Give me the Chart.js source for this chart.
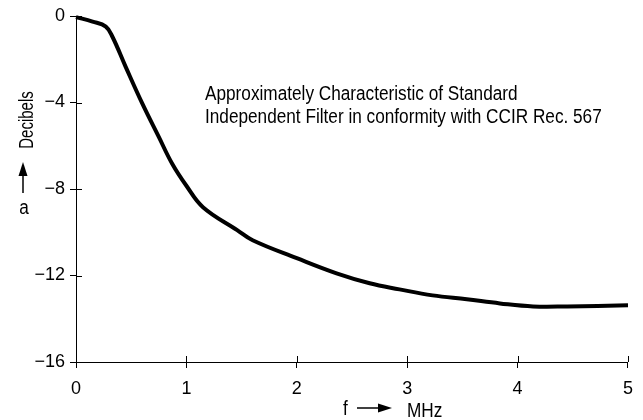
<!DOCTYPE html>
<html>
<head>
<meta charset="utf-8">
<script src="https://cdn.jsdelivr.net/npm/chart.js@4.4.1/dist/chart.umd.min.js"></script>
<style>
    html, body { margin: 0; padding: 0; background: #fff; }
    canvas { display: block; }
</style>
</head>
<body>
<canvas id="chart" width="643" height="420"></canvas>
<script>
// attenuation curve (MHz, dB)
const freq = [0, 0.15, 0.27, 0.33, 0.45, 0.6, 0.75, 0.87, 1.0, 1.15, 1.46, 1.6, 2.0, 2.36, 2.66, 2.93, 3.23, 3.54, 3.84, 4.14, 4.45, 5.0];
const atten = [-0.05, -0.26, -0.49, -0.96, -2.35, -4.04, -5.59, -6.82, -7.85, -8.84, -9.9, -10.37, -11.2, -11.9, -12.36, -12.64, -12.92, -13.1, -13.29, -13.43, -13.43, -13.38];

const xTicks = [0, 1, 2, 3, 4, 5];
const yTicks = [0, -4, -8, -12, -16];
const note = [
    "Approximately Characteristic of Standard",
    "Independent Filter in conformity with CCIR Rec. 567"
];

const FONT = '"Liberation Sans Narrow", "Liberation Sans", Arial, sans-serif';
const NARROW = 0.86; // no narrow face installed, squeeze by hand

function line(ctx, x1, y1, x2, y2) {
    ctx.beginPath();
    ctx.moveTo(x1, y1);
    ctx.lineTo(x2, y2);
    ctx.stroke();
}

function text(ctx, t, x, y, rot, sx) {
    ctx.save();
    ctx.translate(x, y);
    if (rot) ctx.rotate(rot);
    ctx.scale(sx || NARROW, 1);
    ctx.fillText(t, 0, 0);
    ctx.restore();
}

// ticks cross the axis, titles with arrows, and the note
const extras = {
    id: "extras",
    afterDraw(chart) {
        const ctx = chart.ctx;
        const xs = chart.scales.x, ys = chart.scales.y;
        const area = chart.chartArea;
        ctx.save();
        ctx.strokeStyle = "#000";
        ctx.fillStyle = "#000";
        ctx.lineWidth = 1;

        xTicks.forEach(v => {
            const px = Math.round(xs.getPixelForValue(v)) + 0.5;
            line(ctx, px, area.bottom, px, area.bottom - 6);
        });
        yTicks.forEach(v => {
            const py = Math.round(ys.getPixelForValue(v)) + 0.5;
            line(ctx, area.left, py, area.left + 6, py);
        });

        ctx.font = "20px " + FONT;
        ctx.textBaseline = "alphabetic";
        ctx.textAlign = "left";
        text(ctx, note[0], 205, 100);
        text(ctx, note[1], 205, 123);

        // y title: Decibels (rotated), arrow up, a
        ctx.textAlign = "center";
        text(ctx, "Decibels", 33, 120, -Math.PI / 2, 0.75);

        ctx.lineWidth = 1.5;
        line(ctx, 23, 193, 23, 172);
        ctx.beginPath();
        ctx.moveTo(23, 162);
        ctx.lineTo(18.5, 176);
        ctx.lineTo(27.5, 176);
        ctx.closePath();
        ctx.fill();

        text(ctx, "a", 24, 214);

        // x title: f -> MHz
        ctx.textAlign = "left";
        text(ctx, "f", 343, 415);
        line(ctx, 357, 408, 381, 408);
        ctx.beginPath();
        ctx.moveTo(392, 408);
        ctx.lineTo(378, 403.5);
        ctx.lineTo(378, 412.5);
        ctx.closePath();
        ctx.fill();
        text(ctx, "MHz", 407, 417);

        ctx.restore();
    }
};

new Chart(document.getElementById("chart"), {
    type: "line",
    data: {
        datasets: [{
            data: freq.map((f, i) => ({ x: f, y: atten[i] })),
            borderColor: "#000",
            borderWidth: 4,
            pointRadius: 0,
            tension: 0.4,
            fill: false,
            clip: false
        }]
    },
    options: {
        responsive: false,
        animation: false,
        devicePixelRatio: 1,
        layout: { padding: { top: 16, right: 15, bottom: 0, left: 0 } },
        plugins: { legend: { display: false }, tooltip: { enabled: false } },
        scales: {
            x: {
                type: "linear",
                min: 0,
                max: 5,
                afterBuildTicks: s => { s.ticks = xTicks.map(v => ({ value: v })); },
                afterFit: s => { s.height = 58; },
                grid: { drawOnChartArea: false, tickLength: 6, color: "#000" },
                border: { color: "#000", width: 1 },
                ticks: { color: "#000", padding: 10, font: { size: 18, family: FONT }, maxRotation: 0 }
            },
            y: {
                min: -16,
                max: 0,
                afterBuildTicks: s => { s.ticks = yTicks.map(v => ({ value: v })); },
                afterFit: s => { s.width = 76; },
                grid: { drawOnChartArea: false, tickLength: 6, color: "#000" },
                border: { color: "#000", width: 1 },
                ticks: {
                    color: "#000",
                    padding: 5,
                    font: { size: 18, family: FONT },
                    callback: v => v < 0 ? "\u2212" + Math.abs(v) : String(v)
                }
            }
        }
    },
    plugins: [extras]
});
</script>
</body>
</html>
